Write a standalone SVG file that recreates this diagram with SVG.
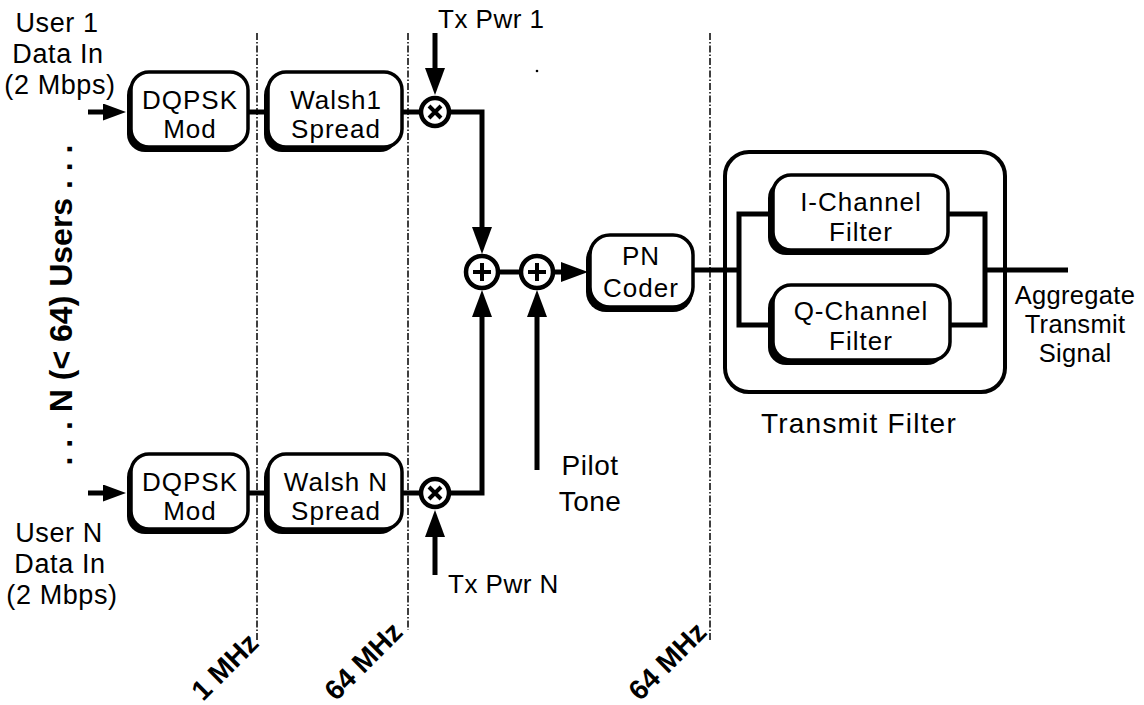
<svg xmlns="http://www.w3.org/2000/svg" width="1144" height="705" viewBox="0 0 1144 705">
<style>
text { font-family: "Liberation Sans", Arial, sans-serif; fill: #000; }
.lbl { font-size: 26px; letter-spacing: 1px; }
.usr { font-size: 27px; letter-spacing: 0.6px; }
.mid { text-anchor: middle; }
.box { fill: #fff; stroke: #000; stroke-width: 3.5; }
.shd { fill: #000; }
.wire { fill: none; stroke: #000; stroke-width: 5; }
.arr { fill: none; stroke: #000; stroke-width: 5; marker-end: url(#ah); }
.arr2 { fill: none; stroke: #000; stroke-width: 5; marker-end: url(#ah2); }
.dash { fill: none; stroke: #000; stroke-width: 1.5; stroke-dasharray: 7 2 1.5 2; }
.op { fill: #fff; stroke: #000; stroke-width: 4.5; }
.sym { fill: none; stroke: #000; stroke-width: 4; }
.bold { font-weight: bold; font-size: 28px; }
</style>
<defs>
<marker id="ah" markerUnits="userSpaceOnUse" markerWidth="28" markerHeight="22" refX="18" refY="10" orient="auto">
<path d="M0,0 L27,10 L0,20 Z" fill="#000"/>
</marker>
<marker id="ah2" markerUnits="userSpaceOnUse" markerWidth="26" markerHeight="20" refX="14" refY="8.5" orient="auto">
<path d="M0,0 L23,8.5 L0,17 Z" fill="#000"/>
</marker>
</defs>

<g id="dividers">
<line class="dash" x1="257" y1="33" x2="257" y2="642"/>
<line class="dash" x1="408" y1="33" x2="408" y2="630"/>
<line class="dash" x1="710" y1="33" x2="710" y2="642"/>
<circle cx="537" cy="71" r="1.3" fill="#000"/>
</g>

<g id="connectors">
<line class="arr2" x1="88" y1="112" x2="117" y2="112"/>
<line class="arr2" x1="88" y1="493" x2="117" y2="493"/>
<line class="wire" x1="248" y1="112" x2="268" y2="112"/>
<line class="wire" x1="402" y1="112" x2="421" y2="112"/>
<line class="wire" x1="248" y1="493" x2="268" y2="493"/>
<line class="wire" x1="402" y1="493" x2="421" y2="493"/>
<line class="arr" x1="435" y1="33" x2="435" y2="86"/>
<line class="arr" x1="435" y1="575" x2="435" y2="519"/>
<path class="arr" d="M450,112 H482 V245"/>
<path class="arr" d="M450,493 H482 V299"/>
<line class="arr" x1="537" y1="470" x2="537" y2="299"/>
<line class="wire" x1="499" y1="272" x2="520" y2="272"/>
<line class="arr" x1="554" y1="272" x2="579" y2="272"/>
<line class="wire" x1="693" y1="270" x2="739" y2="270"/>
<path class="wire" d="M775,214 H739 V325 H775"/>
<path class="wire" d="M946,214 H985 V325 H946"/>
<line class="wire" x1="985" y1="270" x2="1068" y2="270"/>
</g>

<g id="users-label">
<text class="bold" transform="translate(72,305) rotate(-90)" text-anchor="middle" style="font-size:32px">. . . N (&lt; 64) Users . . .</text>
</g>

<g id="user1-in">
<text class="usr mid"><tspan x="57" y="32">User 1</tspan><tspan x="58" y="63">Data In</tspan><tspan x="60" y="94">(2 Mbps)</tspan></text>
</g>

<g id="userN-in">
<text class="usr mid"><tspan x="59" y="542">User N</tspan><tspan x="60" y="573">Data In</tspan><tspan x="62" y="604">(2 Mbps)</tspan></text>
</g>

<g id="dqpsk1">
<rect class="shd" x="127" y="77" width="117" height="75" rx="18"/>
<rect class="box" x="131" y="72" width="117" height="75" rx="18"/>
<text class="lbl mid"><tspan x="190" y="109">DQPSK</tspan><tspan x="190" y="138">Mod</tspan></text>
</g>

<g id="walsh1">
<rect class="shd" x="264" y="77" width="134" height="75" rx="18"/>
<rect class="box" x="268" y="72" width="134" height="75" rx="18"/>
<text class="lbl mid"><tspan x="336" y="109">Walsh1</tspan><tspan x="336" y="138">Spread</tspan></text>
</g>

<g id="dqpskN">
<rect class="shd" x="127" y="459" width="117" height="75" rx="18"/>
<rect class="box" x="131" y="454" width="117" height="75" rx="18"/>
<text class="lbl mid"><tspan x="190" y="491">DQPSK</tspan><tspan x="190" y="520">Mod</tspan></text>
</g>

<g id="walshN">
<rect class="shd" x="264" y="459" width="134" height="75" rx="18"/>
<rect class="box" x="268" y="454" width="134" height="75" rx="18"/>
<text class="lbl mid"><tspan x="336" y="491">Walsh N</tspan><tspan x="336" y="520">Spread</tspan></text>
</g>

<g id="mult1">
<circle class="op" cx="435" cy="112" r="14"/>
<path class="sym" d="M429,106 L441,118 M441,106 L429,118"/>
<text x="438" y="28" style="font-size:26px;letter-spacing:0.5px">Tx Pwr 1</text>
</g>

<g id="multN">
<circle class="op" cx="435" cy="493" r="14"/>
<path class="sym" d="M429,487 L441,499 M441,487 L429,499"/>
<text x="448" y="593" style="font-size:26px;letter-spacing:0.5px">Tx Pwr N</text>
</g>

<g id="sum1">
<circle class="op" cx="482" cy="272" r="16"/>
<path class="sym" d="M473,272 H491 M482,263 V281"/>
</g>

<g id="sum2">
<circle class="op" cx="537" cy="272" r="16"/>
<path class="sym" d="M528,272 H546 M537,263 V281"/>
</g>

<g id="pilot">
<text class="mid" style="font-size:28px;letter-spacing:0.5px"><tspan x="590" y="475">Pilot</tspan><tspan x="590" y="511">Tone</tspan></text>
</g>

<g id="pn-coder">
<rect class="shd" x="586" y="240" width="107" height="72" rx="20"/>
<rect class="box" x="590" y="235" width="103" height="72" rx="20"/>
<text class="lbl mid"><tspan x="641" y="265">PN</tspan><tspan x="641" y="297">Coder</tspan></text>
</g>

<g id="transmit-filter">
<rect x="725" y="152" width="280" height="240" rx="24" fill="none" stroke="#000" stroke-width="4"/>
<text class="mid" x="859" y="433" style="font-size:28px;letter-spacing:1.2px">Transmit Filter</text>
</g>

<g id="i-filter">
<rect class="shd" x="768" y="180" width="175" height="75" rx="18"/>
<rect class="box" x="773" y="175" width="175" height="75" rx="18"/>
<text class="lbl mid"><tspan x="861" y="211">I-Channel</tspan><tspan x="861" y="241">Filter</tspan></text>
</g>

<g id="q-filter">
<rect class="shd" x="768" y="290" width="177" height="75" rx="18"/>
<rect class="box" x="773" y="285" width="177" height="75" rx="18"/>
<text class="lbl mid"><tspan x="861" y="320">Q-Channel</tspan><tspan x="861" y="350">Filter</tspan></text>
</g>

<g id="output-label">
<text class="mid" style="font-size:25.5px;letter-spacing:0.3px"><tspan x="1075" y="304">Aggregate</tspan><tspan x="1075" y="333">Transmit</tspan><tspan x="1075" y="362">Signal</tspan></text>
</g>

<g id="rates">
<text class="bold" transform="translate(203,702) rotate(-45)">1 MHz</text>
<text class="bold" transform="translate(336,702) rotate(-45)">64 MHz</text>
<text class="bold" transform="translate(640,702) rotate(-45)">64 MHz</text>
</g>
</svg>
